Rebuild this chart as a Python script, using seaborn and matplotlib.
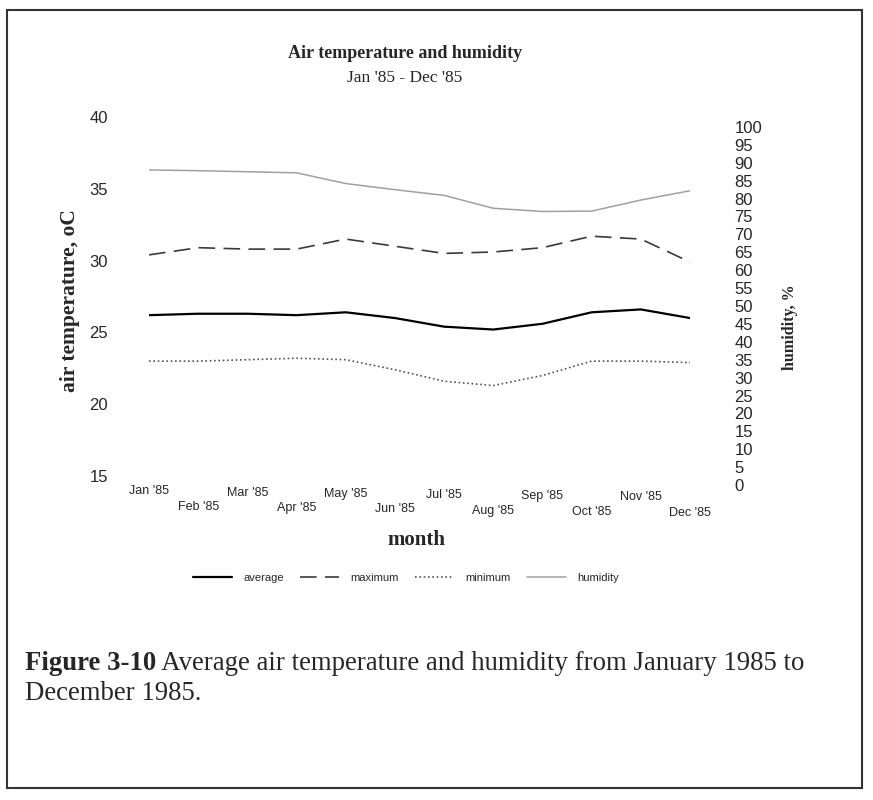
import matplotlib
matplotlib.use('Agg')
import matplotlib.pyplot as plt
from matplotlib.patches import Rectangle
import seaborn as sns
import pandas as pd

# values
months = ["Jan '85", "Feb '85", "Mar '85", "Apr '85", "May '85", "Jun '85",
          "Jul '85", "Aug '85", "Sep '85", "Oct '85", "Nov '85", "Dec '85"]
avg_temp = [26.2, 26.3, 26.3, 26.2, 26.4, 26.0, 25.4, 25.2, 25.6, 26.4, 26.6, 26.0]
max_temp = [30.4, 30.9, 30.8, 30.8, 31.5, 31.0, 30.5, 30.6, 30.9, 31.7, 31.5, 29.9]
min_temp = [23.0, 23.0, 23.1, 23.2, 23.1, 22.4, 21.6, 21.3, 22.0, 23.0, 23.0, 22.9]
humidity = [88.0, 87.8, 87.5, 87.2, 84.2, 82.5, 80.9, 77.3, 76.4, 76.5, 79.6, 82.2]
temp_ticks = [15, 20, 25, 30, 35, 40]
hum_ticks = list(range(0, 101, 5))

df = pd.DataFrame({'month': months, 'average': avg_temp, 'maximum': max_temp,
                   'minimum': min_temp, 'humidity': humidity})

sns.set_style('white')
plt.rcParams['font.family'] = ['Liberation Sans', 'DejaVu Sans']
serif = ['Liberation Serif', 'DejaVu Serif']

fig = plt.figure(figsize=(8.73, 8.0), dpi=100)
ax = fig.add_axes([0.1707, 0.405, 0.6197, 0.44875])
ax2 = fig.add_axes([0.1707, 0.39375, 0.6197, 0.4475])
ax2.patch.set_visible(False)

#temperature lines
sns.lineplot(data=df, x='month', y='average', ax=ax, color='black', lw=1.6, label='average')
sns.lineplot(data=df, x='month', y='maximum', ax=ax, color='#3a3a3a', lw=1.2,
             linestyle=(0, (10, 5)), label='maximum')
sns.lineplot(data=df, x='month', y='minimum', ax=ax, color='#555555', lw=1.2,
             linestyle=(0, (1, 1.6)), label='minimum')
#humidity on its own scale
sns.lineplot(data=df, x='month', y='humidity', ax=ax2, color='#a0a0a0', lw=1.1, label='humidity')

for a in (ax, ax2):
    a.get_legend().remove()
    a.set_xlim(0, 11)
    for s in a.spines.values():
        s.set_visible(False)

ax.set_ylim(15, 40)
ax.set_yticks(temp_ticks)
ax.tick_params(axis='y', length=0, pad=29.5, labelsize=12)
ax.set_xticks(range(len(months)))
ax.set_xticklabels(months, fontsize=9)
ax.tick_params(axis='x', length=0)
for i, tick in enumerate(ax.xaxis.get_major_ticks()):
    px = 9.5 + 0.6 * i + (15 if i % 2 else 0)
    tick.set_pad(px * 0.72)

ax2.set_ylim(0, 100)
ax2.set_yticks(hum_ticks)
ax2.yaxis.tick_right()
ax2.tick_params(axis='y', length=0, pad=32, labelsize=12)
for lab in ax2.get_yticklabels():
    lab.set_horizontalalignment('left')
ax2.set_xticks([])
ax2.set_xlabel('')

ax.set_xlabel('month', fontfamily=serif, fontweight='bold', fontsize=15)
ax.xaxis.set_label_coords(0.495, -0.15)
ax.set_ylabel('air temperature, oC', fontfamily=serif, fontweight='bold', fontsize=15.5)
ax.yaxis.set_label_coords(-0.1275, 0.49)
ax2.set_ylabel('humidity, %', fontfamily=serif, fontweight='bold', fontsize=11.5, rotation=90)
ax2.yaxis.set_label_position('right')
ax2.yaxis.set_label_coords(1.17, 0.44)

fig.text(405 / 873, 1 - 53 / 800, 'Air temperature and humidity', ha='center', va='center',
         fontfamily=serif, fontweight='bold', fontsize=13)
fig.text(405 / 873, 1 - 78 / 800, "Jan '85 - Dec '85", ha='center', va='center',
         fontfamily=serif, fontsize=12.5)

handles = ax.get_lines()[:3] + ax2.get_lines()[:1]
fig.legend(handles, ['average', 'maximum', 'minimum', 'humidity'], loc='center',
           bbox_to_anchor=(406 / 873, 1 - 578 / 800), ncol=4, frameon=False, fontsize=8,
           handlelength=3.5, columnspacing=1.5, handletextpad=1.0)

#caption
t1 = fig.text(25 / 873, 1 - 664 / 800, 'Figure 3-10', ha='left', va='center',
              fontfamily=serif, fontweight='bold', fontsize=19.3)
ax.annotate(' Average air temperature and humidity from January 1985 to', xy=(1, 0.5),
            xycoords=t1, ha='left', va='center', fontfamily=serif, fontsize=19.3,
            annotation_clip=False)
fig.text(25 / 873, 1 - 693 / 800, 'December 1985.', ha='left', va='center',
         fontfamily=serif, fontsize=19.3)

fig.patches.append(Rectangle((7 / 873, 1 - 788 / 800), 855 / 873, 778 / 800,
                             transform=fig.transFigure, fill=False, lw=1.5,
                             edgecolor='#333333'))

fig.savefig('out.png', dpi=100)
